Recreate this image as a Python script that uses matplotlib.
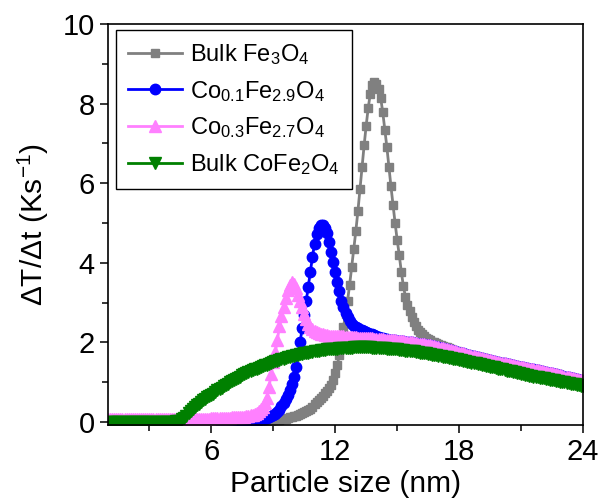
import numpy as np
import matplotlib
matplotlib.use('Agg')
import matplotlib.pyplot as plt

plt.rcParams['font.family'] = ['Liberation Sans', 'DejaVu Sans']
plt.rcParams['mathtext.fontset'] = 'custom'
plt.rcParams['mathtext.rm'] = 'Liberation Sans'
plt.rcParams['mathtext.default'] = 'regular'

# particle size grid (nm), 0.1 nm steps from 1.0 to 24.0
size = np.round(np.arange(1.0, 24.05, 0.1), 1)

# Bulk Fe3O4
fe3o4 = [
    0, 0, 0, 0, 0, 0, 0, 0, 0, 0,
    0, 0, 0, 0, 0, 0, 0, 0, 0, 0,
    0, 0, 0, 0, 0, 0, 0, 0, 0, 0,
    0, 0, 0, 0, 0, 0, 0, 0, 0, 0,
    0, 0, 0, 0, 0, 0, 0, 0, 0, 0,
    0, 0, 0, 0, 0, 0, 0, 0, 0, 0,
    0, 0, 0, 0, 0, 0.01, 0.01, 0.01, 0.01, 0.01,
    0.01, 0.01, 0.01, 0.01, 0.02, 0.02, 0.02, 0.02, 0.03, 0.03,
    0.04, 0.04, 0.05, 0.05, 0.06, 0.07, 0.08, 0.09, 0.11, 0.12,
    0.14, 0.15, 0.17, 0.19, 0.21, 0.24, 0.27, 0.30, 0.33, 0.37,
    0.45, 0.49, 0.54, 0.60, 0.66, 0.72, 0.78, 0.84, 0.92, 1.05,
    1.22, 1.42, 1.68, 2.00, 2.38, 2.70, 3.05, 3.45, 3.90, 4.35,
    4.80, 5.30, 5.85, 6.40, 6.95, 7.45, 7.90, 8.25, 8.48, 8.55,
    8.50, 8.38, 8.15, 7.80, 7.35, 6.92, 6.42, 5.92, 5.45, 5.00,
    4.58, 4.20, 3.78, 3.42, 3.15, 2.95, 2.78, 2.63, 2.50, 2.40,
    2.32, 2.26, 2.20, 2.15, 2.11, 2.08, 2.05, 2.02, 2.00, 1.98,
    1.95, 1.93, 1.91, 1.89, 1.87, 1.85, 1.83, 1.81, 1.79, 1.78,
    1.76, 1.74, 1.73, 1.71, 1.70, 1.69, 1.67, 1.66, 1.65, 1.63,
    1.62, 1.61, 1.60, 1.58, 1.57, 1.56, 1.55, 1.54, 1.52, 1.51,
    1.50, 1.49, 1.48, 1.47, 1.46, 1.45, 1.43, 1.42, 1.41, 1.40,
    1.39, 1.38, 1.37, 1.36, 1.35, 1.34, 1.33, 1.32, 1.31, 1.30,
    1.28, 1.27, 1.26, 1.25, 1.24, 1.23, 1.22, 1.21, 1.20, 1.18,
    1.16, 1.15, 1.14, 1.13, 1.12, 1.11, 1.09, 1.08, 1.07, 1.05,
    1.03,
]

# Co0.1Fe2.9O4
co01 = [
    0, 0, 0, 0, 0, 0, 0, 0, 0, 0,
    0, 0, 0, 0, 0, 0, 0, 0, 0, 0,
    0, 0, 0, 0, 0, 0, 0, 0, 0, 0,
    0, 0, 0, 0, 0, 0, 0, 0, 0, 0,
    0, 0, 0, 0, 0, 0, 0, 0, 0, 0,
    0, 0, 0, 0, 0, 0, 0, 0, 0, 0,
    0, 0, 0.01, 0.01, 0.01, 0.01, 0.01, 0.02, 0.02, 0.02,
    0.03, 0.03, 0.04, 0.05, 0.06, 0.07, 0.08, 0.10, 0.12, 0.14,
    0.17, 0.20, 0.24, 0.31, 0.39, 0.47, 0.57, 0.68, 0.80, 0.95,
    1.12, 1.38, 1.70, 2.00, 2.35, 2.68, 3.05, 3.40, 3.78, 4.15,
    4.48, 4.72, 4.88, 4.96, 4.95, 4.88, 4.74, 4.52, 4.28, 4.03,
    3.78, 3.52, 3.28, 3.05, 2.88, 2.74, 2.63, 2.54, 2.47, 2.42,
    2.38, 2.35, 2.32, 2.30, 2.28, 2.26, 2.24, 2.22, 2.20, 2.18,
    2.16, 2.14, 2.12, 2.10, 2.09, 2.08, 2.07, 2.06, 2.05, 2.05,
    2.04, 2.04, 2.03, 2.03, 2.02, 2.01, 2.01, 2.00, 1.99, 1.98,
    1.97, 1.96, 1.96, 1.95, 1.94, 1.93, 1.92, 1.91, 1.90, 1.89,
    1.87, 1.86, 1.85, 1.84, 1.82, 1.81, 1.80, 1.78, 1.77, 1.76,
    1.74, 1.73, 1.72, 1.70, 1.69, 1.68, 1.66, 1.65, 1.64, 1.62,
    1.61, 1.60, 1.59, 1.57, 1.56, 1.55, 1.54, 1.53, 1.51, 1.50,
    1.49, 1.48, 1.47, 1.46, 1.45, 1.44, 1.42, 1.41, 1.40, 1.39,
    1.38, 1.37, 1.36, 1.35, 1.34, 1.33, 1.32, 1.31, 1.30, 1.29,
    1.27, 1.26, 1.25, 1.24, 1.23, 1.22, 1.21, 1.20, 1.19, 1.17,
    1.15, 1.14, 1.13, 1.12, 1.11, 1.10, 1.08, 1.07, 1.06, 1.04,
    1.02,
]

# Co0.3Fe2.7O4
co03 = [
    0.08, 0.08, 0.08, 0.08, 0.08, 0.08, 0.08, 0.08, 0.08, 0.08,
    0.08, 0.08, 0.08, 0.08, 0.08, 0.08, 0.08, 0.08, 0.08, 0.08,
    0.08, 0.08, 0.08, 0.08, 0.08, 0.08, 0.08, 0.08, 0.08, 0.08,
    0.08, 0.08, 0.08, 0.08, 0.08, 0.08, 0.08, 0.08, 0.08, 0.08,
    0.08, 0.08, 0.08, 0.08, 0.08, 0.08, 0.08, 0.08, 0.08, 0.08,
    0.09, 0.09, 0.09, 0.09, 0.09, 0.10, 0.10, 0.10, 0.10, 0.10,
    0.11, 0.11, 0.11, 0.12, 0.12, 0.13, 0.13, 0.14, 0.15, 0.16,
    0.18, 0.20, 0.23, 0.27, 0.32, 0.38, 0.47, 0.60, 0.88, 1.20,
    1.50, 1.75, 2.05, 2.40, 2.65, 2.90, 3.12, 3.32, 3.45, 3.52,
    3.47, 3.37, 3.20, 3.05, 2.88, 2.72, 2.58, 2.47, 2.39, 2.33,
    2.29, 2.25, 2.23, 2.21, 2.20, 2.19, 2.18, 2.17, 2.17, 2.16,
    2.16, 2.16, 2.15, 2.15, 2.15, 2.14, 2.14, 2.14, 2.13, 2.13,
    2.13, 2.12, 2.12, 2.12, 2.11, 2.11, 2.10, 2.10, 2.10, 2.09,
    2.09, 2.09, 2.08, 2.08, 2.07, 2.07, 2.06, 2.06, 2.05, 2.05,
    2.04, 2.04, 2.03, 2.03, 2.02, 2.01, 2.01, 2.00, 1.99, 1.98,
    1.97, 1.96, 1.96, 1.95, 1.94, 1.93, 1.92, 1.91, 1.90, 1.89,
    1.87, 1.86, 1.85, 1.84, 1.82, 1.81, 1.80, 1.78, 1.77, 1.76,
    1.74, 1.73, 1.72, 1.70, 1.69, 1.68, 1.66, 1.65, 1.64, 1.62,
    1.61, 1.60, 1.59, 1.57, 1.56, 1.55, 1.54, 1.53, 1.51, 1.50,
    1.49, 1.48, 1.47, 1.46, 1.45, 1.44, 1.42, 1.41, 1.40, 1.39,
    1.38, 1.37, 1.36, 1.35, 1.34, 1.33, 1.32, 1.31, 1.30, 1.29,
    1.27, 1.26, 1.25, 1.24, 1.23, 1.22, 1.21, 1.20, 1.19, 1.17,
    1.15, 1.14, 1.13, 1.12, 1.11, 1.10, 1.08, 1.07, 1.06, 1.04,
    1.02,
]

# Bulk CoFe2O4
cofe2o4 = [
    0, 0, 0, 0, 0, 0, 0, 0, 0, 0,
    0, 0, 0, 0, 0, 0, 0, 0, 0, 0,
    0, 0, 0, 0, 0, 0, 0, 0, 0, 0,
    0, 0, 0, 0.01, 0.01, 0.03, 0.06, 0.10, 0.15, 0.21,
    0.27, 0.32, 0.37, 0.42, 0.46, 0.50, 0.54, 0.58, 0.62, 0.65,
    0.68, 0.71, 0.75, 0.79, 0.83, 0.86, 0.90, 0.93, 0.96, 0.99,
    1.02, 1.05, 1.08, 1.11, 1.14, 1.17, 1.20, 1.22, 1.25, 1.27,
    1.30, 1.32, 1.34, 1.36, 1.38, 1.40, 1.42, 1.44, 1.46, 1.48,
    1.50, 1.52, 1.54, 1.55, 1.57, 1.59, 1.60, 1.62, 1.63, 1.65,
    1.66, 1.67, 1.69, 1.70, 1.71, 1.72, 1.73, 1.74, 1.75, 1.76,
    1.77, 1.78, 1.79, 1.80, 1.80, 1.81, 1.82, 1.82, 1.83, 1.83,
    1.84, 1.84, 1.85, 1.85, 1.85, 1.86, 1.86, 1.86, 1.86, 1.87,
    1.87, 1.87, 1.87, 1.87, 1.87, 1.87, 1.87, 1.87, 1.86, 1.86,
    1.86, 1.86, 1.85, 1.85, 1.85, 1.84, 1.84, 1.83, 1.83, 1.82,
    1.82, 1.81, 1.81, 1.80, 1.79, 1.79, 1.78, 1.77, 1.77, 1.76,
    1.75, 1.74, 1.73, 1.73, 1.72, 1.71, 1.70, 1.69, 1.68, 1.67,
    1.66, 1.65, 1.64, 1.63, 1.62, 1.61, 1.60, 1.59, 1.58, 1.57,
    1.56, 1.55, 1.54, 1.53, 1.51, 1.50, 1.49, 1.48, 1.47, 1.46,
    1.45, 1.44, 1.42, 1.41, 1.40, 1.39, 1.38, 1.37, 1.35, 1.34,
    1.33, 1.32, 1.31, 1.29, 1.28, 1.27, 1.26, 1.25, 1.24, 1.22,
    1.21, 1.20, 1.19, 1.18, 1.16, 1.15, 1.14, 1.13, 1.12, 1.11,
    1.10, 1.09, 1.08, 1.07, 1.06, 1.05, 1.04, 1.03, 1.02, 1.01,
    1.00, 0.99, 0.98, 0.97, 0.96, 0.95, 0.94, 0.93, 0.92, 0.91,
    0.90,
]

fig = plt.figure(figsize=(6.13, 5.04), dpi=100)
ax = fig.add_axes([0.1762, 0.1567, 0.7749, 0.7953])

ax.plot(size, fe3o4, color='#808080', lw=2, marker='s', ms=6,
        label='Bulk Fe$_3$O$_4$')
ax.plot(size, co01, color='#0000ff', lw=2, marker='o', ms=7.5,
        label='Co$_{0.1}$Fe$_{2.9}$O$_4$')
ax.plot(size, co03, color='#ff80ff', lw=2, marker='^', ms=8.5,
        label='Co$_{0.3}$Fe$_{2.7}$O$_4$')
ax.plot(size, cofe2o4, color='#008000', lw=2, marker='v', ms=8.5,
        label='Bulk CoFe$_2$O$_4$')

ax.set_xlim(1, 24)
ax.set_ylim(-0.08, 10)
ax.set_xticks([6, 12, 18, 24])
ax.set_xticks([3, 9, 15, 21], minor=True)
ax.set_yticks([0, 2, 4, 6, 8, 10])
ax.set_yticks([1, 3, 5, 7, 9], minor=True)
ax.tick_params(which='both', direction='out', width=1.1, labelsize=21,
               top=False, right=False)
ax.tick_params(which='major', length=6)
ax.tick_params(which='minor', length=4.5)
for s in ax.spines.values():
    s.set_linewidth(1.2)

ax.set_xlabel('Particle size (nm)', fontsize=21.5, labelpad=3)
ax.set_ylabel('ΔT/Δt (Ks$^{-1}$)', fontsize=21.5, labelpad=8)

leg = ax.legend(loc='upper left', bbox_to_anchor=(0.017, 0.985),
                borderaxespad=0, fontsize=17, numpoints=1,
                handlelength=2.3, handletextpad=0.35, labelspacing=0.5,
                borderpad=0.5, fancybox=False, edgecolor='black',
                framealpha=1)
leg.get_frame().set_linewidth(1.0)

fig.savefig('out.png', dpi=100)
